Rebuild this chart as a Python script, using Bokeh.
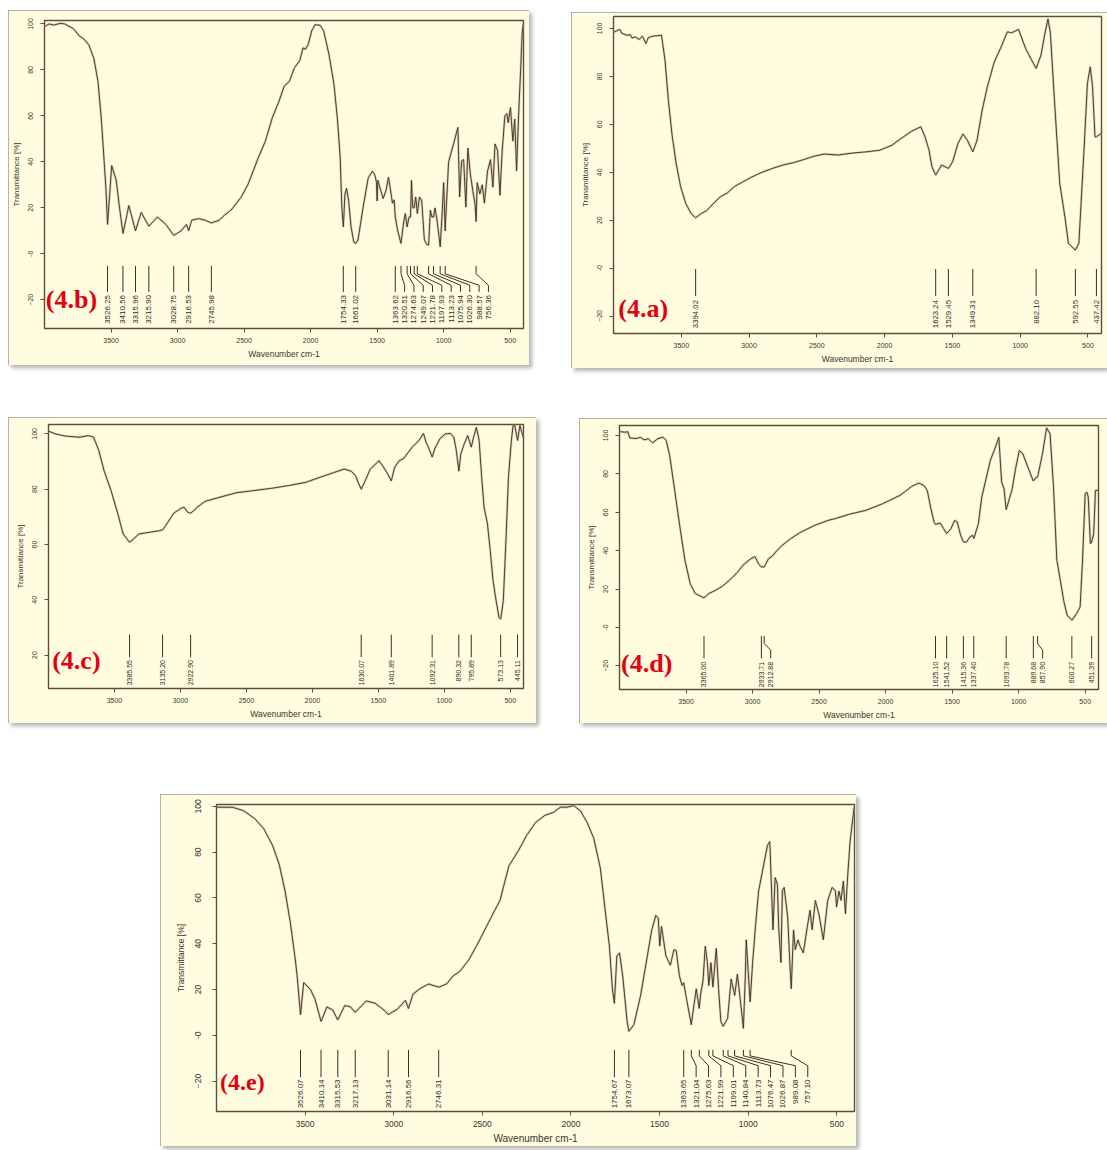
import math
from bokeh.plotting import figure
from bokeh.models import Range1d, FixedTicker, Spacer
from bokeh.layouts import row, column
from bokeh.embed import file_html
from bokeh.resources import INLINE
from bokeh.core.properties import value

# ---------------- data ----------------
x_ticks = [3500, 3000, 2500, 2000, 1500, 1000, 500]
y_ticks_full = [100, 80, 60, 40, 20, 0, -20]
y_ticks_c = [100, 80, 60, 40, 20]

# (4.a)
a_wn = [3998, 3953, 3940, 3901, 3876, 3863, 3838, 3812, 3786, 3761,
        3743, 3710, 3676, 3646, 3620, 3595, 3569, 3538, 3505, 3467,
        3428, 3394, 3352, 3313, 3262, 3211, 3160, 3109, 3058, 2981,
        2904, 2827, 2751, 2673, 2597, 2520, 2444, 2341, 2239, 2137,
        2035, 1945, 1881, 1804, 1733, 1702, 1672, 1651, 1623, 1580,
        1529, 1498, 1459, 1421, 1390, 1349, 1318, 1280, 1242, 1191,
        1140, 1094, 1063, 1012, 960, 922, 882, 846, 820, 795,
        777, 747, 708, 670, 644, 593, 567, 529, 504, 483,
        466, 448, 437, 402]
a_tr = [98.5, 99.6, 98.0, 97.2, 97.4, 96.0, 96.5, 95.4, 96.8, 93.7,
        96.2, 96.8, 97.0, 97.2, 86.8, 70.0, 56.0, 43.7, 34.0, 27.0,
        22.8, 21.0, 22.8, 24.0, 27.0, 29.8, 31.4, 34.0, 35.6, 38.0,
        40.0, 41.6, 43.0, 44.0, 45.3, 46.7, 47.6, 47.2, 48.0, 48.5,
        49.2, 51.3, 54.0, 57.0, 59.0, 54.8, 49.2, 42.3, 38.8, 43.0,
        41.6, 44.4, 52.0, 56.0, 53.4, 48.5, 53.4, 66.0, 75.7, 86.0,
        92.4, 98.6, 98.2, 99.6, 91.7, 87.5, 83.3, 89.0, 97.2, 104.0,
        98.0, 70.0, 35.3, 21.4, 10.3, 7.5, 10.3, 49.2, 77.0, 84.0,
        75.7, 54.8, 54.8, 56.2]
a_peaks = [3394.02, 1623.24, 1529.45, 1349.31, 882.10, 592.55, 437.42]

# (4.b)
b_wn = [3995, 3965, 3930, 3880, 3848, 3784, 3737, 3706, 3668, 3629,
        3598, 3572, 3552, 3539, 3526, 3495, 3461, 3436, 3410, 3366,
        3316, 3273, 3216, 3152, 3088, 3029, 2972, 2933, 2917, 2894,
        2843, 2791, 2746, 2688, 2649, 2598, 2521, 2469, 2392, 2340,
        2289, 2237, 2198, 2160, 2121, 2082, 2057, 2040, 2018, 1992,
        1967, 1928, 1902, 1863, 1825, 1799, 1778, 1765, 1754, 1742,
        1730, 1714, 1696, 1675, 1661, 1644, 1606, 1567, 1535, 1515,
        1505, 1500, 1495, 1480, 1455, 1433, 1415, 1400, 1385, 1372,
        1364, 1345, 1321, 1300, 1288, 1275, 1260, 1249, 1242, 1232,
        1222, 1210, 1198, 1182, 1165, 1145, 1125, 1113, 1100, 1088,
        1076, 1065, 1050, 1036, 1026, 1010, 1000, 989, 963, 925,
        893, 880, 865, 850, 833, 818, 800, 780, 765, 756,
        748, 728, 710, 694, 670, 648, 630, 614, 595, 577,
        560, 540, 525, 515, 498, 480, 466, 452, 437, 420,
        410, 402]
b_tr = [99.0, 100.0, 99.5, 100.3, 100.0, 98.0, 94.7, 93.6, 91.0, 85.0,
        75.0, 58.0, 40.5, 29.0, 12.8, 38.4, 32.0, 20.0, 8.8, 21.0,
        10.0, 18.0, 12.0, 16.0, 12.8, 8.0, 10.0, 12.8, 10.0, 14.6,
        15.3, 14.6, 13.4, 14.6, 16.7, 19.0, 24.7, 30.4, 42.0, 49.0,
        59.0, 66.5, 73.0, 75.0, 81.0, 84.0, 89.6, 89.0, 91.0, 97.0,
        99.7, 99.4, 97.0, 87.0, 74.0, 59.0, 42.0, 20.0, 11.7, 26.0,
        28.5, 23.0, 11.7, 5.0, 4.5, 6.0, 20.0, 33.0, 36.0, 34.0,
        31.0, 23.0, 32.0, 29.0, 24.0, 27.6, 33.3, 28.0, 22.0, 23.5,
        16.0, 10.0, 4.5, 14.0, 17.5, 11.7, 16.0, 16.0, 32.0, 20.0,
        20.0, 24.7, 17.5, 24.7, 23.0, 6.0, 4.0, 3.8, 19.0, 16.0,
        16.0, 20.0, 14.6, 8.0, 3.0, 19.0, 31.0, 10.0, 40.0, 48.0,
        55.0, 24.7, 40.5, 41.0, 20.3, 46.0, 35.0, 27.0, 22.0, 14.0,
        31.0, 26.0, 30.0, 22.0, 36.0, 41.0, 29.0, 47.8, 45.0, 25.4,
        45.0, 60.0, 61.0, 57.0, 63.6, 49.0, 58.6, 36.0, 60.0, 82.0,
        96.0, 100.0]
b_peaks = [3526.25, 3410.56, 3315.96, 3215.90, 3028.75, 2916.53, 2745.98,
           1754.33, 1661.02, 1363.62, 1320.51, 1274.63, 1249.07, 1221.78,
           1197.93, 1113.23, 1075.94, 1026.30, 988.57, 756.36]

# (4.c)
c_wn = [4000, 3949, 3869, 3764, 3698, 3658, 3619, 3579, 3526, 3474,
        3434, 3386, 3355, 3315, 3236, 3157, 3135, 3104, 3051, 2999,
        2972, 2946, 2923, 2898, 2867, 2814, 2708, 2577, 2445, 2313,
        2181, 2049, 1943, 1838, 1759, 1706, 1674, 1654, 1630, 1600,
        1561, 1495, 1468, 1429, 1402, 1376, 1342, 1310, 1244, 1192,
        1158, 1139, 1121, 1092, 1073, 1034, 994, 955, 928, 909,
        890, 875, 849, 823, 796, 778, 757, 736, 717, 699,
        673, 652, 631, 612, 586, 573, 553, 532, 514, 492,
        479, 466, 445, 427, 402]
c_tr = [101.0, 100.0, 99.2, 98.8, 99.4, 98.8, 94.0, 86.7, 79.5, 71.0,
        63.8, 60.8, 62.0, 63.8, 64.4, 65.0, 65.3, 67.4, 71.3, 73.0,
        73.5, 71.7, 71.3, 72.3, 73.7, 75.6, 77.0, 78.7, 79.5, 80.3,
        81.3, 82.5, 84.3, 86.0, 87.3, 86.5, 85.0, 82.5, 80.0, 83.0,
        87.3, 90.3, 88.5, 85.5, 83.0, 88.0, 90.3, 91.0, 95.2, 97.6,
        100.2, 97.0, 95.2, 91.6, 94.6, 98.2, 100.0, 100.2, 98.8, 94.0,
        86.5, 92.8, 96.4, 99.4, 95.2, 98.8, 102.4, 97.6, 84.3, 73.5,
        67.4, 57.8, 47.0, 41.0, 33.7, 33.0, 39.7, 62.6, 84.3, 97.6,
        103.0, 103.0, 97.6, 103.0, 98.8]
c_peaks = [3385.55, 3135.20, 2922.90, 1630.07, 1401.89, 1092.31, 890.32,
           795.89, 573.13, 445.11]

# (4.d)
d_wn = [3995, 3956, 3938, 3923, 3879, 3841, 3815, 3785, 3751, 3713,
        3674, 3649, 3623, 3585, 3546, 3508, 3469, 3431, 3365, 3328,
        3277, 3226, 3174, 3123, 3072, 3021, 2982, 2956, 2934, 2913,
        2879, 2854, 2815, 2777, 2713, 2636, 2533, 2431, 2379, 2277,
        2149, 2021, 1892, 1803, 1751, 1713, 1687, 1662, 1636, 1625,
        1590, 1564, 1542, 1508, 1482, 1462, 1436, 1415, 1392, 1367,
        1346, 1337, 1303, 1277, 1251, 1213, 1174, 1149, 1128, 1110,
        1094, 1051, 1021, 995, 969, 931, 890, 867, 858, 821,
        790, 764, 738, 713, 687, 662, 636, 600, 564, 538,
        520, 500, 487, 477, 461, 451, 436, 423, 402]
d_tr = [102.0, 101.7, 102.0, 98.8, 98.4, 99.0, 97.7, 98.3, 96.2, 98.3,
        99.1, 97.4, 89.6, 71.4, 52.3, 35.0, 22.9, 17.7, 15.4, 17.7,
        19.4, 21.5, 24.6, 28.0, 32.4, 35.4, 37.0, 33.3, 31.5, 31.5,
        35.9, 37.0, 40.2, 42.8, 46.3, 49.7, 53.2, 55.8, 56.7, 58.9,
        61.0, 64.5, 68.8, 73.5, 75.2, 74.0, 71.4, 62.7, 54.9, 53.7,
        54.4, 51.5, 48.9, 51.5, 55.8, 55.0, 48.0, 44.5, 44.5, 47.1,
        48.0, 46.3, 54.0, 68.0, 75.7, 87.0, 94.0, 99.1, 75.7, 72.3,
        61.4, 71.4, 83.5, 92.2, 90.5, 83.5, 76.3, 78.3, 78.3, 90.5,
        104.0, 100.9, 73.0, 35.0, 24.6, 14.2, 6.4, 3.8, 7.3, 10.7,
        35.0, 69.7, 70.5, 68.0, 43.7, 44.5, 48.9, 71.4, 71.4]
d_peaks = [3365.00, 2933.71, 2912.88, 1625.10, 1541.52, 1415.36, 1337.40,
           1093.78, 889.68, 857.90, 600.27, 451.39]

# (4.e)
e_wn = [3998, 3910, 3847, 3784, 3734, 3684, 3646, 3613, 3583, 3558,
        3545, 3526, 3508, 3470, 3445, 3410, 3377, 3344, 3316, 3276,
        3244, 3217, 3155, 3105, 3055, 3031, 2979, 2934, 2917, 2891,
        2853, 2803, 2746, 2702, 2664, 2626, 2576, 2526, 2463, 2400,
        2350, 2299, 2249, 2199, 2148, 2098, 2060, 2023, 1985, 1947,
        1909, 1871, 1834, 1809, 1783, 1766, 1755, 1741, 1726, 1708,
        1683, 1673, 1645, 1607, 1569, 1544, 1521, 1507, 1499, 1489,
        1464, 1439, 1419, 1406, 1388, 1373, 1364, 1348, 1321, 1293,
        1276, 1268, 1255, 1242, 1230, 1222, 1210, 1199, 1180, 1167,
        1154, 1141, 1116, 1096, 1076, 1061, 1046, 1027, 1016, 1011,
        989, 975, 959, 941, 916, 891, 878, 871, 860, 848,
        835, 828, 815, 807, 797, 777, 765, 757, 744, 734,
        719, 707, 689, 669, 651, 639, 621, 601, 576, 551,
        526, 508, 501, 488, 476, 463, 451, 438, 425, 402]
e_tr = [99.6, 99.6, 98.1, 94.6, 90.3, 83.0, 74.6, 63.0, 49.0, 34.6,
        26.0, 8.9, 23.0, 20.0, 16.0, 6.0, 12.4, 11.0, 6.7, 13.0,
        12.4, 10.0, 15.0, 14.0, 11.0, 9.1, 11.4, 15.3, 11.7, 18.0,
        20.3, 22.4, 21.0, 22.4, 26.0, 28.0, 33.0, 40.0, 49.6, 59.0,
        74.0, 80.3, 87.4, 93.0, 96.0, 97.4, 99.6, 99.6, 100.3, 98.1,
        93.0, 86.0, 73.0, 56.0, 38.9, 20.3, 13.9, 34.6, 36.0, 26.0,
        6.0, 1.7, 4.6, 17.4, 34.6, 46.0, 52.4, 51.0, 38.9, 47.6,
        34.6, 30.6, 37.4, 37.0, 26.0, 21.7, 23.0, 16.0, 4.6, 20.3,
        11.7, 18.0, 23.7, 38.9, 31.7, 21.7, 31.7, 21.0, 38.0, 20.3,
        6.0, 3.9, 7.4, 24.6, 17.4, 26.7, 16.7, 3.0, 26.0, 41.7,
        14.6, 31.7, 47.4, 63.0, 73.0, 83.0, 84.6, 70.0, 46.0, 68.9,
        66.0, 47.4, 31.7, 63.0, 64.6, 51.7, 31.7, 20.3, 46.0, 37.4,
        41.7, 38.9, 36.0, 46.0, 54.6, 46.0, 58.9, 53.0, 41.7, 58.9,
        64.6, 63.0, 56.0, 63.0, 58.9, 67.4, 53.0, 70.0, 84.6, 99.6]
e_peaks = [3526.07, 3410.14, 3315.53, 3217.13, 3031.14, 2916.56, 2746.31,
           1754.67, 1673.07, 1363.65, 1321.04, 1275.63, 1221.99, 1199.01,
           1140.84, 1113.73, 1076.47, 1026.87, 989.08, 757.10]

# ---------------- styling ----------------
BG = "#FFFCE0"
LINE = "#3b2e25"
HALO = "#cdb9a0"
FRAME = "#5e4c3e"
TXT = "#3a3530"
RED = "#E3000F"
SANS = "Liberation Sans"


def label_positions(peaks, gap):
    out = []
    for i, pk in enumerate(peaks):
        out.append(pk if i == 0 else min(pk, out[-1] - gap))
    return out


def panel(wn, tr, peaks, tag, W, H, mb, yr, yticks, lev, lab_fs, tag_xy,
          tag_fs=26, tick_fs=7, xlab_fs=8.5, ylab_fs=8, ystand=(7, 5), xstand=(5, 3)):
    p = figure(width=W, height=H, x_range=Range1d(4000, 400),
               y_range=Range1d(*yr), output_backend="svg",
               toolbar_location=None, tools="",
               min_border_left=mb[0], min_border_right=mb[1],
               min_border_top=mb[2], min_border_bottom=mb[3],
               background_fill_color=BG, border_fill_color=BG,
               x_axis_label="Wavenumber cm-1",
               y_axis_label="Transmittance [%]")
    p.styles = {"outline": "1px solid #9a9a9a", "outline-offset": "-1px",
                "box-shadow": "3px 3px 4px rgba(0,0,0,0.30)"}
    p.outline_line_color = FRAME
    p.outline_line_width = 1.4
    p.xgrid.visible = False
    p.ygrid.visible = False
    p.xaxis.ticker = FixedTicker(ticks=x_ticks)
    p.yaxis.ticker = FixedTicker(ticks=yticks)
    p.yaxis.major_label_overrides = {0: "-0"}
    p.yaxis.major_label_orientation = "vertical"
    for ax in (p.xaxis[0], p.yaxis[0]):
        ax.axis_line_color = None
        ax.major_tick_line_color = FRAME
        ax.major_tick_out = 4
        ax.major_tick_in = 0
        ax.minor_tick_line_color = None
        ax.major_label_text_font = SANS
        ax.major_label_text_color = TXT
        ax.major_label_text_font_size = f"{tick_fs}px"
        ax.axis_label_text_font = SANS
        ax.axis_label_text_font_style = "normal"
        ax.axis_label_text_color = TXT
    p.xaxis.axis_label_text_font_size = f"{xlab_fs}px"
    p.yaxis.axis_label_text_font_size = f"{ylab_fs}px"
    p.yaxis.major_label_standoff = ystand[0]
    p.yaxis.axis_label_standoff = ystand[1]
    p.xaxis.major_label_standoff = xstand[0]
    p.xaxis.axis_label_standoff = xstand[1]

    # spectrum
    p.line(wn, tr, line_color=HALO, line_width=2.4, line_alpha=0.7)
    p.line(wn, tr, line_color=LINE, line_width=0.9)

    # peak markers and labels
    lx = label_positions(peaks, 70)
    xs, ys = [], []
    for pk, x in zip(peaks, lx):
        if abs(pk - x) < 1e-6:
            xs.append([pk, pk])
            ys.append([lev[0], lev[3]])
        else:
            xs.append([pk, pk, x, x])
            ys.append([lev[0], lev[1], lev[2], lev[3]])
    p.multi_line(xs, ys, line_color=LINE, line_width=1.0)
    p.text(x=lx, y=[lev[4]] * len(lx), text=[f"{v:.2f}" for v in peaks],
           angle=math.pi / 2, text_align="right", text_baseline="middle",
           text_font=value(SANS), text_font_size=f"{lab_fs}px",
           text_color="#2e2a26")

    p.text(x=[tag_xy[0]], y=[tag_xy[1]], text=[tag], text_align="left",
           text_baseline="middle", text_font=value("Liberation Serif"),
           text_font_style="bold", text_font_size=f"{tag_fs}px",
           text_color=RED)
    return p


pb = panel(b_wn, b_tr, b_peaks, "(4.b)", 521, 355, (33, 6, 10, 37),
           (-32.5, 101.5), y_ticks_full, (-5.3, -8.7, -13.7, -16.6, -17.9),
           8, (3990, -20))
pa = panel(a_wn, a_tr, a_peaks, "(4.a)", 536, 356, (42, 6, 4, 35),
           (-27.3, 105), y_ticks_full, (-0.4, -4, -8, -11.7, -13.3),
           7.8, (3965, -16.8))
pc = panel(c_wn, c_tr, c_peaks, "(4.c)", 528, 306, (40, 13, 7, 35),
           (7.9, 103.4), y_ticks_c, (27.4, 25, 21, 19.2, 18.2),
           7, (3972, 18))
pd = panel(d_wn, d_tr, d_peaks, "(4.d)", 528, 305, (40, 9, 7, 34),
           (-32.3, 105.2), y_ticks_full, (-4.5, -8.3, -11.8, -16.1, -17.9),
           7, (3988, -18.7))
pe = panel(e_wn, e_tr, e_peaks, "(4.e)", 696, 352, (56, 2, 10, 35),
           (-33.3, 100.8), y_ticks_full, (-6.4, -9.0, -13.3, -18.3, -19.3),
           8, (3980, -20.4), tag_fs=24, tick_fs=8.5, xlab_fs=10, ylab_fs=8.5,
           ystand=(11, 7))

layout = column(
    Spacer(height=10),
    row(Spacer(width=8), pb, Spacer(width=42), column(Spacer(height=2), pa)),
    Spacer(height=49),
    row(Spacer(width=8), pc, Spacer(width=43), column(Spacer(height=1), pd)),
    Spacer(height=71),
    row(Spacer(width=160), pe),
)

open("out.html", "w").write(file_html(layout, INLINE))
